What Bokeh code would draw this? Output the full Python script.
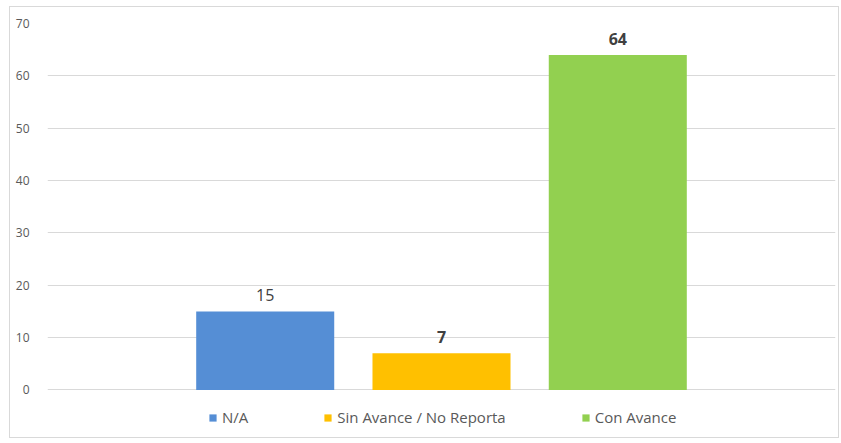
from bokeh.plotting import figure
from bokeh.models import ColumnDataSource, FactorRange, Legend, LegendItem, CDSView, IndexFilter
from bokeh.core.properties import value
from bokeh.embed import file_html
from bokeh.resources import INLINE

categories = ["N/A", "Sin Avance / No Reporta", "Con Avance"]
values = [15, 7, 64]
colors = ["#558ED5", "#FFC000", "#92D050"]
bold_labels = [False, True, True]
y_ticks = [0, 10, 20, 30, 40, 50, 60, 70]

src = ColumnDataSource(dict(cat=categories, val=values, color=colors,
                            lab=[str(v) for v in values]))

p = figure(x_range=FactorRange(factors=categories, range_padding=0.735, range_padding_units="absolute"),
           y_range=(-8.5, 70), width=830, height=432, output_backend="svg",
           toolbar_location=None, min_border_left=37, min_border_right=5,
           min_border_top=16, min_border_bottom=5)
p.styles = {"margin-left": "9px", "margin-top": "6px", "border": "1px solid #d9d9d9"}
p.outline_line_color = None
p.xgrid.grid_line_color = None
p.ygrid.grid_line_color = "#d9d9d9"
p.ygrid.grid_line_width = 1
p.xaxis.visible = False
p.yaxis.ticker = y_ticks
p.yaxis.axis_line_color = None
p.yaxis.major_tick_line_color = None
p.yaxis.minor_tick_line_color = None
p.yaxis.major_label_text_color = "#595959"
p.yaxis.major_label_text_font = "Open Sans"
p.yaxis.major_label_text_font_size = "12px"
p.yaxis.major_label_standoff = 12

r = p.vbar(x="cat", top="val", bottom=0, width=0.783, fill_color="color", line_color=None, source=src)

for style, flag in (("normal", False), ("bold", True)):
    idx = [i for i, b in enumerate(bold_labels) if b == flag]
    p.text(x="cat", y="val", text="lab", source=src, view=CDSView(filter=IndexFilter(idx)),
           text_align="center", text_baseline="bottom",
           y_offset=-10, text_font=value("Open Sans"), text_font_size="16px",
           text_font_style=style, text_color="#404040")

items = []
for i, c in enumerate(categories):
    items.append(LegendItem(label=c, renderers=[r], index=i))
legend = Legend(items=items, orientation="horizontal", location=(161, 7),
                glyph_width=9, glyph_height=9, label_standoff=5, spacing=75,
                label_text_font="Open Sans", label_text_font_size="15px",
                label_text_color="#595959", border_line_color=None,
                background_fill_alpha=0, padding=4, margin=0)
p.add_layout(legend)

open("out.html", "w").write(file_html(p, INLINE))
